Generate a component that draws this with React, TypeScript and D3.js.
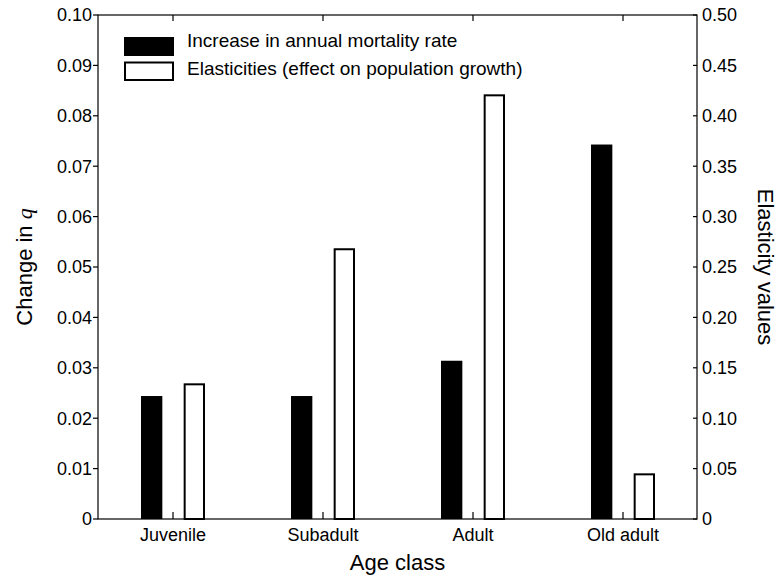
import React from "react";
import * as d3 from "d3";

const categories = ["Juvenile", "Subadult", "Adult", "Old adult"];
const mortality = [0.0244, 0.0244, 0.0314, 0.0743];
const elasticity = [0.1346, 0.2686, 0.4213, 0.0453];
const leftTicks = [0, 0.01, 0.02, 0.03, 0.04, 0.05, 0.06, 0.07, 0.08, 0.09, 0.1];
const rightTicks = [0, 0.05, 0.1, 0.15, 0.2, 0.25, 0.3, 0.35, 0.4, 0.45, 0.5];
const seriesKeys = ["mortality", "elasticity"];
const legendLabels = ["Increase in annual mortality rate", "Elasticities (effect on population growth)"];

const W = 777, H = 576;
const L = 98, R = 697, T = 15, B = 519;
const FONT = "'Liberation Sans', Arial, Helvetica, sans-serif";

export default function App() {
  const x = d3.scaleBand<string>().domain(categories).range([L, R + 1]);
  const sub = d3.scaleBand<string>().domain(seriesKeys).range([-32, 32]).paddingInner(0.5);
  const yL = d3.scaleLinear().domain([0, 0.1]).range([B, T]);
  const yR = d3.scaleLinear().domain([0, 0.5]).range([B, T]);
  const cx = (c: string) => (x(c) as number) + x.bandwidth() / 2;
  const fmtL = (v: number) => (v === 0 ? "0" : d3.format(".2f")(v));
  const fmtR = (v: number) => (v === 0 ? "0" : d3.format(".2f")(v));
  const bw = sub.bandwidth();

  return (
    <svg width={W} height={H} style={{ position: "absolute", left: 0, top: 0, background: "#fff" }} fontFamily={FONT}>
      <rect x={0} y={0} width={W} height={H} fill="#fff" />
      {/* bars */}
      {categories.map((c, i) => (
        <g key={c}>
          <rect
            x={cx(c) + (sub("mortality") as number)}
            y={yL(mortality[i])}
            width={bw}
            height={B - yL(mortality[i])}
            fill="#000"
          />
          <rect
            x={cx(c) + (sub("elasticity") as number) + 1}
            y={yR(elasticity[i]) + 1}
            width={bw - 2}
            height={B - yR(elasticity[i]) - 1}
            fill="#fff"
            stroke="#000"
            strokeWidth={2}
          />
        </g>
      ))}
      {/* frame */}
      <rect x={L} y={T} width={R - L} height={B - T} fill="none" stroke="#000" strokeWidth={1.2} />
      {/* left ticks */}
      {leftTicks.map((t) => (
        <g key={"l" + t}>
          <line x1={L - 5} x2={L} y1={yL(t)} y2={yL(t)} stroke="#000" strokeWidth={1.2} />
          <text x={L - 6} y={yL(t)} dy="0.35em" textAnchor="end" fontSize={18}>
            {fmtL(t)}
          </text>
        </g>
      ))}
      {/* right ticks */}
      {rightTicks.map((t) => (
        <g key={"r" + t}>
          <line x1={R - 4} x2={R} y1={yR(t)} y2={yR(t)} stroke="#000" strokeWidth={1.2} />
          <text x={R + 5} y={yR(t)} dy="0.35em" textAnchor="start" fontSize={18}>
            {fmtR(t)}
          </text>
        </g>
      ))}
      {/* x ticks */}
      {categories.map((c) => (
        <g key={"x" + c}>
          <line x1={cx(c)} x2={cx(c)} y1={B} y2={B - 7} stroke="#000" strokeWidth={1.2} />
          <line x1={cx(c)} x2={cx(c)} y1={T} y2={T + 6} stroke="#000" strokeWidth={1.2} />
          <text x={cx(c)} y={541} textAnchor="middle" fontSize={18}>
            {c}
          </text>
        </g>
      ))}
      {/* axis titles */}
      <text x={(L + R) / 2} y={570} textAnchor="middle" fontSize={22}>
        Age class
      </text>
      <text transform={`translate(32, ${(T + B) / 2}) rotate(-90)`} textAnchor="middle" fontSize={22}>
        Change in <tspan fontFamily="'Liberation Serif', 'Times New Roman', serif" fontStyle="italic">q</tspan>
      </text>
      <text transform={`translate(758, ${(T + B) / 2}) rotate(90)`} textAnchor="middle" fontSize={22}>
        Elasticity values
      </text>
      {/* legend */}
      <rect x={124} y={37} width={50} height={19} fill="#000" />
      <text x={187} y={47} fontSize={19}>{legendLabels[0]}</text>
      <rect x={125} y={62.5} width={48} height={17.5} fill="#fff" stroke="#000" strokeWidth={2} />
      <text x={187} y={75} fontSize={19}>{legendLabels[1]}</text>
    </svg>
  );
}
